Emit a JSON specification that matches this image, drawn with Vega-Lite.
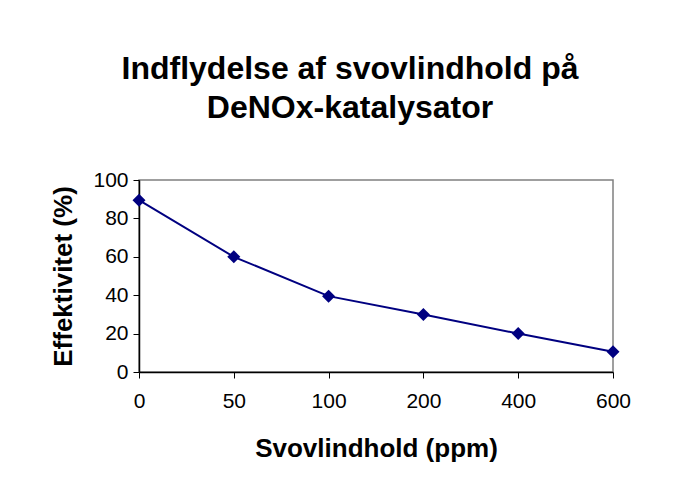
{
  "$schema": "https://vega.github.io/schema/vega-lite/v6.json",
  "autosize": "none",
  "width": 474,
  "height": 192,
  "padding": {"left": 139, "top": 180, "right": 72, "bottom": 119},
  "background": "white",
  "title": {
    "text": ["Indflydelse af svovlindhold på", "DeNOx-katalysator"],
    "font": "Liberation Sans",
    "fontSize": 32,
    "fontWeight": "bold",
    "color": "black",
    "anchor": "middle",
    "dx": -26,
    "offset": 44,
    "lineHeight": 39
  },
  "data": {
    "values": [
      {"svovl": "0", "eff": 89.5},
      {"svovl": "50", "eff": 60},
      {"svovl": "100", "eff": 39.5},
      {"svovl": "200", "eff": 30},
      {"svovl": "400", "eff": 20},
      {"svovl": "600", "eff": 10.5}
    ]
  },
  "encoding": {
    "x": {
      "field": "svovl",
      "type": "ordinal",
      "sort": null,
      "scale": {"type": "point", "padding": 0},
      "title": "Svovlindhold (ppm)",
      "axis": {
        "labelAngle": 0,
        "labelFont": "Liberation Sans",
        "labelFontSize": 21,
        "labelColor": "black",
        "labelPadding": 12,
        "tickColor": "black",
        "tickSize": 6,
        "domainColor": "black",
        "domainWidth": 1.5,
        "titleFont": "Liberation Sans",
        "titleFontSize": 26,
        "titleFontWeight": "bold",
        "titleColor": "black",
        "titlePadding": 24,
        "grid": false
      }
    },
    "y": {
      "field": "eff",
      "type": "quantitative",
      "scale": {"domain": [0, 100], "nice": false},
      "title": "Effektivitet (%)",
      "axis": {
        "values": [0, 20, 40, 60, 80, 100],
        "labelFont": "Liberation Sans",
        "labelFontSize": 21,
        "labelColor": "black",
        "labelPadding": 5,
        "tickColor": "black",
        "tickSize": 6,
        "domainColor": "black",
        "domainWidth": 1.5,
        "titleFont": "Liberation Sans",
        "titleFontSize": 26,
        "titleFontWeight": "bold",
        "titleColor": "black",
        "titlePadding": 16,
        "grid": false
      }
    }
  },
  "layer": [
    {"mark": {"type": "line", "color": "#000080", "strokeWidth": 2}},
    {"mark": {"type": "point", "shape": "diamond", "filled": true, "color": "#000080", "opacity": 1, "size": 170}}
  ],
  "config": {
    "view": {"stroke": "#808080", "strokeWidth": 1.5}
  }
}
